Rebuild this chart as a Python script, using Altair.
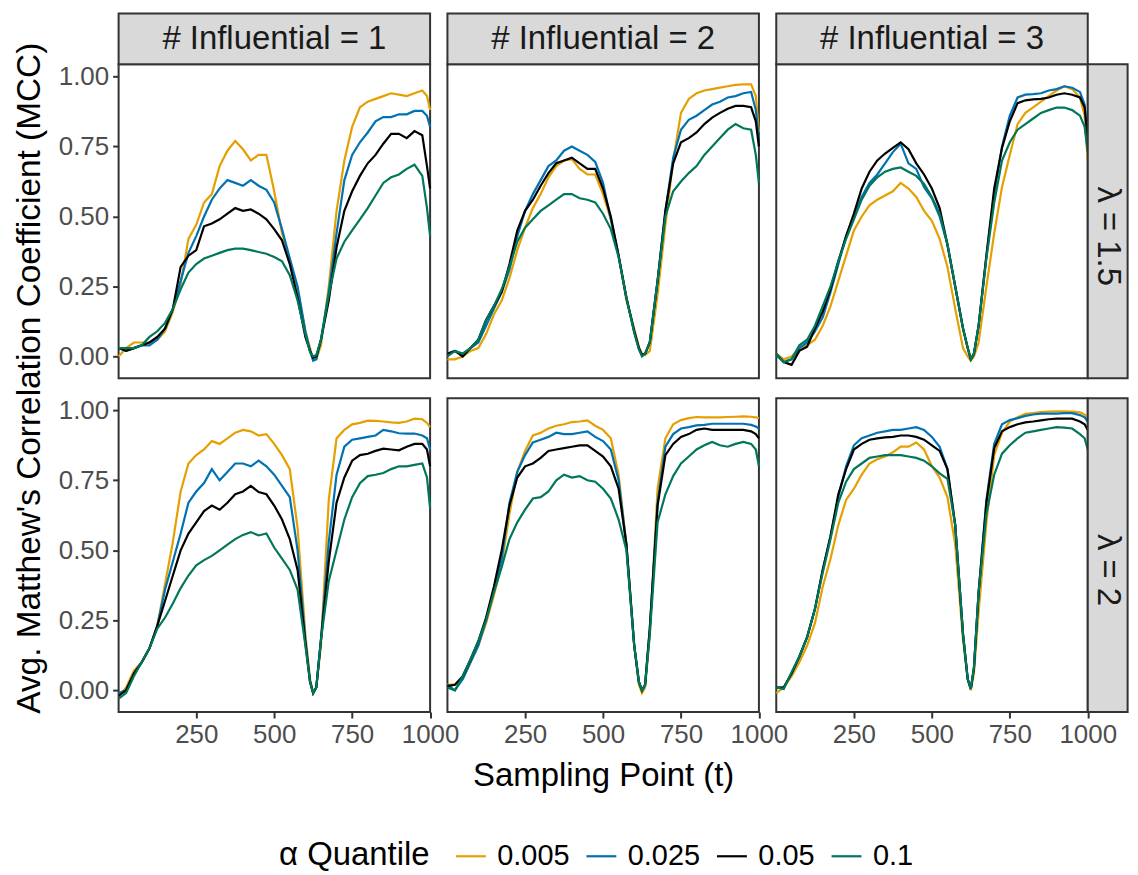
import altair as alt
import pandas as pd

# ---------------- data ----------------
T = [1, 25, 50, 75, 100, 125, 150, 175, 200, 225, 250, 275, 300, 325, 350, 375,
     400, 425, 450, 475, 500, 525, 550, 575, 600, 615, 625, 635, 650, 675, 700,
     725, 750, 775, 800, 825, 850, 875, 900, 925, 950, 975, 990, 1000]

QUANTILES = ["0.005", "0.025", "0.05", "0.1"]
COLORS = ["#E69F00", "#0072B2", "#000000", "#00775A"]
COL_LABELS = ["# Influential = 1", "# Influential = 2", "# Influential = 3"]
ROW_LABELS = ["λ = 1.5", "λ = 2"]
X_TICKS = [250, 500, 750, 1000]
Y_TICKS = [0.0, 0.25, 0.5, 0.75, 1.0]

# lambda = 1.5, # influential = 1
l15_i1_q005 = [0.00, 0.03, 0.05, 0.05, 0.05, 0.06, 0.09, 0.16, 0.26, 0.42, 0.47, 0.55, 0.58, 0.68, 0.735, 0.77, 0.74, 0.70, 0.72, 0.72, 0.59, 0.44, 0.35, 0.24, 0.09, 0.03, -0.01, -0.01, 0.04, 0.25, 0.52, 0.70, 0.82, 0.89, 0.91, 0.92, 0.93, 0.94, 0.935, 0.93, 0.94, 0.95, 0.93, 0.88]
l15_i1_q025 = [0.03, 0.02, 0.03, 0.04, 0.04, 0.06, 0.10, 0.17, 0.27, 0.37, 0.43, 0.50, 0.56, 0.60, 0.63, 0.62, 0.61, 0.63, 0.61, 0.595, 0.55, 0.455, 0.35, 0.25, 0.09, 0.02, -0.015, -0.01, 0.06, 0.23, 0.44, 0.63, 0.72, 0.765, 0.80, 0.84, 0.855, 0.855, 0.865, 0.865, 0.877, 0.877, 0.86, 0.82]
l15_i1_q05 = [0.03, 0.02, 0.03, 0.04, 0.05, 0.07, 0.10, 0.17, 0.32, 0.36, 0.38, 0.465, 0.475, 0.49, 0.51, 0.53, 0.52, 0.525, 0.51, 0.49, 0.455, 0.415, 0.33, 0.21, 0.07, 0.02, -0.005, 0.0, 0.06, 0.20, 0.39, 0.52, 0.59, 0.645, 0.69, 0.72, 0.76, 0.795, 0.795, 0.78, 0.805, 0.79, 0.68, 0.60]
l15_i1_q1 = [0.03, 0.03, 0.03, 0.04, 0.07, 0.09, 0.12, 0.17, 0.24, 0.30, 0.33, 0.35, 0.36, 0.37, 0.38, 0.385, 0.385, 0.38, 0.373, 0.367, 0.355, 0.34, 0.29, 0.20, 0.08, 0.015, 0.0, 0.005, 0.06, 0.22, 0.35, 0.41, 0.45, 0.49, 0.53, 0.575, 0.62, 0.64, 0.65, 0.67, 0.685, 0.645, 0.53, 0.43]

# lambda = 1.5, # influential = 2
l15_i2_q005 = [-0.01, -0.01, 0.0, 0.02, 0.03, 0.08, 0.15, 0.20, 0.28, 0.38, 0.46, 0.53, 0.58, 0.64, 0.68, 0.70, 0.705, 0.67, 0.65, 0.65, 0.58, 0.49, 0.36, 0.20, 0.10, 0.035, 0.01, 0.005, 0.02, 0.22, 0.47, 0.70, 0.87, 0.92, 0.94, 0.95, 0.955, 0.96, 0.965, 0.97, 0.972, 0.972, 0.93, 0.80]
l15_i2_q025 = [0.01, 0.02, 0.01, 0.03, 0.05, 0.11, 0.17, 0.23, 0.31, 0.43, 0.52, 0.58, 0.63, 0.68, 0.70, 0.735, 0.75, 0.735, 0.72, 0.695, 0.62, 0.49, 0.36, 0.21, 0.09, 0.03, 0.005, 0.01, 0.05, 0.27, 0.52, 0.71, 0.81, 0.845, 0.86, 0.88, 0.90, 0.91, 0.925, 0.93, 0.94, 0.945, 0.88, 0.78]
l15_i2_q05 = [0.01, 0.02, 0.0, 0.03, 0.06, 0.13, 0.18, 0.23, 0.33, 0.45, 0.52, 0.56, 0.61, 0.655, 0.69, 0.70, 0.71, 0.69, 0.67, 0.67, 0.60, 0.50, 0.36, 0.21, 0.09, 0.03, 0.005, 0.01, 0.05, 0.27, 0.52, 0.69, 0.765, 0.78, 0.80, 0.83, 0.853, 0.87, 0.885, 0.895, 0.895, 0.89, 0.84, 0.75]
l15_i2_q1 = [0.0, 0.02, 0.01, 0.03, 0.06, 0.13, 0.18, 0.24, 0.32, 0.41, 0.46, 0.49, 0.52, 0.54, 0.56, 0.58, 0.58, 0.565, 0.56, 0.55, 0.51, 0.455, 0.355, 0.21, 0.085, 0.025, 0.0, 0.01, 0.05, 0.27, 0.50, 0.59, 0.625, 0.655, 0.68, 0.72, 0.75, 0.78, 0.81, 0.83, 0.815, 0.81, 0.72, 0.62]

# lambda = 1.5, # influential = 3
l15_i3_q005 = [0.01, -0.01, 0.0, 0.03, 0.04, 0.06, 0.11, 0.18, 0.27, 0.36, 0.45, 0.50, 0.54, 0.56, 0.575, 0.59, 0.62, 0.60, 0.57, 0.52, 0.485, 0.42, 0.32, 0.17, 0.03, 0.0, -0.015, 0.0, 0.05, 0.25, 0.44, 0.605, 0.72, 0.83, 0.87, 0.89, 0.91, 0.93, 0.95, 0.965, 0.955, 0.925, 0.86, 0.70]
l15_i3_q025 = [0.005, -0.02, -0.01, 0.03, 0.05, 0.09, 0.14, 0.23, 0.33, 0.43, 0.50, 0.57, 0.62, 0.65, 0.69, 0.73, 0.76, 0.69, 0.67, 0.605, 0.565, 0.50, 0.40, 0.25, 0.10, 0.03, -0.01, 0.01, 0.11, 0.36, 0.58, 0.75, 0.86, 0.925, 0.935, 0.937, 0.94, 0.95, 0.955, 0.965, 0.96, 0.945, 0.90, 0.75]
l15_i3_q05 = [0.01, -0.02, -0.03, 0.02, 0.035, 0.10, 0.16, 0.24, 0.34, 0.43, 0.51, 0.60, 0.66, 0.70, 0.725, 0.745, 0.765, 0.74, 0.69, 0.65, 0.60, 0.53, 0.40, 0.25, 0.10, 0.03, -0.01, 0.01, 0.11, 0.36, 0.60, 0.745, 0.84, 0.905, 0.915, 0.918, 0.92, 0.925, 0.935, 0.94, 0.935, 0.925, 0.89, 0.78]
l15_i3_q1 = [0.01, -0.02, -0.01, 0.04, 0.06, 0.11, 0.18, 0.25, 0.34, 0.42, 0.49, 0.56, 0.61, 0.64, 0.66, 0.67, 0.675, 0.66, 0.645, 0.616, 0.57, 0.51, 0.40, 0.25, 0.10, 0.03, -0.01, 0.01, 0.11, 0.35, 0.55, 0.70, 0.765, 0.81, 0.83, 0.85, 0.87, 0.88, 0.889, 0.889, 0.88, 0.86, 0.82, 0.73]

# lambda = 2, # influential = 1
l2_i1_q005 = [-0.02, 0.01, 0.07, 0.10, 0.15, 0.23, 0.38, 0.53, 0.71, 0.81, 0.84, 0.86, 0.89, 0.88, 0.90, 0.92, 0.93, 0.925, 0.91, 0.915, 0.88, 0.84, 0.79, 0.58, 0.20, 0.04, -0.01, 0.01, 0.16, 0.68, 0.90, 0.93, 0.95, 0.955, 0.963, 0.962, 0.96, 0.957, 0.955, 0.96, 0.97, 0.968, 0.955, 0.94]
l2_i1_q025 = [-0.01, 0.0, 0.06, 0.10, 0.15, 0.23, 0.36, 0.46, 0.56, 0.67, 0.71, 0.74, 0.79, 0.75, 0.78, 0.81, 0.81, 0.80, 0.82, 0.80, 0.77, 0.73, 0.69, 0.50, 0.18, 0.03, -0.01, 0.01, 0.18, 0.53, 0.77, 0.87, 0.895, 0.90, 0.905, 0.91, 0.93, 0.925, 0.918, 0.917, 0.917, 0.91, 0.90, 0.86]
l2_i1_q05 = [-0.02, 0.0, 0.06, 0.10, 0.15, 0.23, 0.32, 0.41, 0.50, 0.56, 0.60, 0.64, 0.66, 0.645, 0.67, 0.70, 0.71, 0.73, 0.708, 0.70, 0.66, 0.61, 0.54, 0.43, 0.17, 0.03, -0.01, 0.01, 0.18, 0.46, 0.67, 0.76, 0.82, 0.84, 0.845, 0.855, 0.863, 0.86, 0.857, 0.87, 0.88, 0.88, 0.86, 0.80]
l2_i1_q1 = [-0.03, -0.01, 0.05, 0.10, 0.15, 0.22, 0.26, 0.31, 0.365, 0.41, 0.446, 0.465, 0.48, 0.50, 0.52, 0.54, 0.555, 0.565, 0.553, 0.56, 0.51, 0.47, 0.43, 0.36, 0.16, 0.03, -0.01, 0.01, 0.18, 0.39, 0.50, 0.61, 0.69, 0.74, 0.765, 0.77, 0.776, 0.79, 0.80, 0.80, 0.805, 0.81, 0.76, 0.65]

# lambda = 2, # influential = 2
l2_i2_q005 = [0.02, 0.02, 0.04, 0.10, 0.16, 0.24, 0.34, 0.45, 0.63, 0.78, 0.855, 0.91, 0.92, 0.935, 0.945, 0.95, 0.958, 0.96, 0.964, 0.945, 0.93, 0.90, 0.77, 0.52, 0.16, 0.02, -0.01, 0.01, 0.20, 0.72, 0.90, 0.95, 0.965, 0.972, 0.976, 0.975, 0.975, 0.975, 0.976, 0.977, 0.978, 0.977, 0.975, 0.972]
l2_i2_q025 = [0.02, 0.0, 0.04, 0.10, 0.16, 0.25, 0.36, 0.47, 0.67, 0.78, 0.84, 0.885, 0.895, 0.905, 0.92, 0.915, 0.915, 0.92, 0.925, 0.905, 0.89, 0.86, 0.75, 0.52, 0.16, 0.03, 0.0, 0.02, 0.22, 0.67, 0.87, 0.915, 0.935, 0.94, 0.946, 0.948, 0.952, 0.952, 0.952, 0.952, 0.952, 0.948, 0.942, 0.935]
l2_i2_q05 = [0.015, 0.02, 0.05, 0.11, 0.175, 0.26, 0.37, 0.50, 0.66, 0.76, 0.80, 0.81, 0.83, 0.855, 0.86, 0.865, 0.87, 0.875, 0.875, 0.855, 0.835, 0.80, 0.72, 0.52, 0.16, 0.03, 0.0, 0.02, 0.22, 0.66, 0.84, 0.88, 0.905, 0.915, 0.93, 0.935, 0.93, 0.93, 0.93, 0.93, 0.93, 0.925, 0.915, 0.90]
l2_i2_q1 = [0.01, 0.0, 0.05, 0.11, 0.175, 0.25, 0.35, 0.44, 0.54, 0.60, 0.645, 0.685, 0.69, 0.71, 0.75, 0.77, 0.76, 0.765, 0.75, 0.745, 0.72, 0.685, 0.61, 0.50, 0.16, 0.03, 0.0, 0.02, 0.20, 0.60, 0.70, 0.765, 0.81, 0.835, 0.86, 0.875, 0.887, 0.875, 0.87, 0.88, 0.887, 0.88, 0.86, 0.80]

# lambda = 2, # influential = 3
l2_i3_q005 = [-0.01, 0.01, 0.05, 0.10, 0.16, 0.24, 0.37, 0.47, 0.59, 0.68, 0.72, 0.77, 0.81, 0.825, 0.835, 0.85, 0.87, 0.87, 0.885, 0.86, 0.80, 0.76, 0.69, 0.52, 0.18, 0.04, 0.0, 0.06, 0.28, 0.60, 0.84, 0.92, 0.96, 0.975, 0.987, 0.99, 0.994, 0.995, 0.996, 0.996, 0.995, 0.993, 0.985, 0.97]
l2_i3_q025 = [0.01, 0.01, 0.06, 0.12, 0.19, 0.29, 0.43, 0.55, 0.69, 0.80, 0.875, 0.90, 0.91, 0.92, 0.925, 0.93, 0.93, 0.935, 0.94, 0.93, 0.905, 0.87, 0.79, 0.59, 0.20, 0.04, 0.005, 0.08, 0.35, 0.68, 0.88, 0.95, 0.965, 0.972, 0.98, 0.985, 0.988, 0.988, 0.988, 0.99, 0.99, 0.983, 0.975, 0.96]
l2_i3_q05 = [0.01, 0.01, 0.06, 0.12, 0.19, 0.29, 0.43, 0.55, 0.70, 0.79, 0.86, 0.88, 0.895, 0.90, 0.903, 0.905, 0.91, 0.91, 0.905, 0.895, 0.875, 0.855, 0.79, 0.59, 0.20, 0.04, 0.005, 0.08, 0.35, 0.67, 0.865, 0.925, 0.94, 0.95, 0.957, 0.96, 0.964, 0.968, 0.97, 0.97, 0.97, 0.96, 0.95, 0.93]
l2_i3_q1 = [0.01, 0.005, 0.065, 0.12, 0.19, 0.29, 0.42, 0.54, 0.67, 0.745, 0.79, 0.81, 0.83, 0.835, 0.84, 0.84, 0.84, 0.835, 0.83, 0.82, 0.80, 0.775, 0.755, 0.59, 0.20, 0.04, 0.005, 0.08, 0.35, 0.63, 0.77, 0.845, 0.875, 0.90, 0.92, 0.925, 0.93, 0.935, 0.94, 0.938, 0.935, 0.915, 0.90, 0.86]

PANELS = [
    [[l15_i1_q005, l15_i1_q025, l15_i1_q05, l15_i1_q1],
     [l15_i2_q005, l15_i2_q025, l15_i2_q05, l15_i2_q1],
     [l15_i3_q005, l15_i3_q025, l15_i3_q05, l15_i3_q1]],
    [[l2_i1_q005, l2_i1_q025, l2_i1_q05, l2_i1_q1],
     [l2_i2_q005, l2_i2_q025, l2_i2_q05, l2_i2_q1],
     [l2_i3_q005, l2_i3_q025, l2_i3_q05, l2_i3_q1]],
]

# ---------------- styling / layout ----------------
FONT = "Liberation Sans"
W, H = 312.6, 315
ROW_GAP, COL_GAP = 20, 17
STRIP = 51
RSTRIP = 40
YDOM = [-0.0776, 1.0434]
BORDER = "#333333"
YTITLE_SIZE = 33.5

legend = alt.Legend(
    title="α Quantile", orient="none", legendX=161, legendY=778,
    direction="horizontal", columns=4, titleOrient="left",
    titleFontSize=33, titleFont=FONT, titleColor="black", titleFontWeight="normal",
    titlePadding=24, labelFontSize=29, labelFont=FONT, labelColor="black",
    labelOffset=10, columnPadding=12, symbolType="stroke", symbolSize=900,
    symbolStrokeWidth=2.2,
)

color = alt.Color(
    "q:N", title="α Quantile",
    scale=alt.Scale(domain=QUANTILES, range=COLORS),
    legend=legend,
)


def make_panel(r, c):
    rows = []
    for q, vals in zip(QUANTILES, PANELS[r][c]):
        for t, v in zip(T, vals):
            rows.append({"t": t, "v": v, "q": q})
    df = pd.DataFrame(rows)

    if r == 1:
        x_axis = alt.Axis(
            values=X_TICKS, format="d", grid=False, domain=False,
            labelFontSize=26, labelFont=FONT, labelColor="#4D4D4D",
            labelFlush=False, labelOverlap=False, labelPadding=4,
            tickColor=BORDER, tickWidth=2, tickSize=6,
            title="Sampling Point (t)" if c == 1 else None,
            titleFontSize=33, titleFont=FONT, titleColor="black",
            titleFontWeight="normal", titlePadding=12,
        )
    else:
        x_axis = None
    if c == 0:
        y_axis = alt.Axis(
            values=Y_TICKS, format=".2f", grid=False, domain=False, title=None,
            labelFontSize=26, labelFont=FONT, labelColor="#4D4D4D",
            labelFlush=False, labelOverlap=False, labelPadding=4,
            tickColor=BORDER, tickWidth=2, tickSize=6,
        )
    else:
        y_axis = None

    lines = alt.Chart(df).mark_line(strokeWidth=2.2).encode(
        x=alt.X("t:Q", scale=alt.Scale(domain=[1, 1000], nice=False, zero=False), axis=x_axis),
        y=alt.Y("v:Q", scale=alt.Scale(domain=YDOM, nice=False, zero=False), axis=y_axis),
        color=color,
    )
    layers = [lines]

    if r == 0:
        sdf = pd.DataFrame({"label": [COL_LABELS[c]]})
        layers.append(alt.Chart(sdf).mark_rect(fill="#D9D9D9", stroke=BORDER, strokeWidth=2).encode(
            x=alt.value(0), x2=alt.value(W), y=alt.value(-STRIP), y2=alt.value(0)))
        layers.append(alt.Chart(sdf).mark_text(fontSize=33, font=FONT, color="#1A1A1A",
                                               align="center", baseline="middle").encode(
            x=alt.value(W / 2), y=alt.value(-STRIP / 2), text="label:N"))
    if c == 2:
        rdf = pd.DataFrame({"label": [ROW_LABELS[r]]})
        layers.append(alt.Chart(rdf).mark_rect(fill="#D9D9D9", stroke=BORDER, strokeWidth=2).encode(
            x=alt.value(W), x2=alt.value(W + RSTRIP), y=alt.value(0), y2=alt.value(H)))
        layers.append(alt.Chart(rdf).mark_text(fontSize=33, font=FONT, color="#1A1A1A", angle=90,
                                               align="center", baseline="middle").encode(
            x=alt.value(W + RSTRIP / 2), y=alt.value(H / 2 + 15), text="label:N"))
    if r == 1 and c == 0:
        tdf = pd.DataFrame({"label": ["Avg. Matthew's Correlation Coefficient (MCC)"]})
        layers.append(alt.Chart(tdf).mark_text(fontSize=YTITLE_SIZE, font=FONT, color="black", angle=270,
                                               align="center", baseline="middle").encode(
            x=alt.value(-88.7), y=alt.value(-20), text="label:N"))

    return alt.layer(*layers).properties(width=W, height=H)


panels = [make_panel(r, c) for r in range(2) for c in range(3)]

chart = alt.concat(
    *panels, columns=3, spacing={"row": ROW_GAP, "column": COL_GAP}, bounds="flush"
).properties(
    padding={"left": 4, "top": 2, "right": 0, "bottom": 0},
    background="white",
).configure_view(
    stroke=BORDER, strokeWidth=2,
)

chart.save("out.html", embed_options={"renderer": "svg", "actions": False})
